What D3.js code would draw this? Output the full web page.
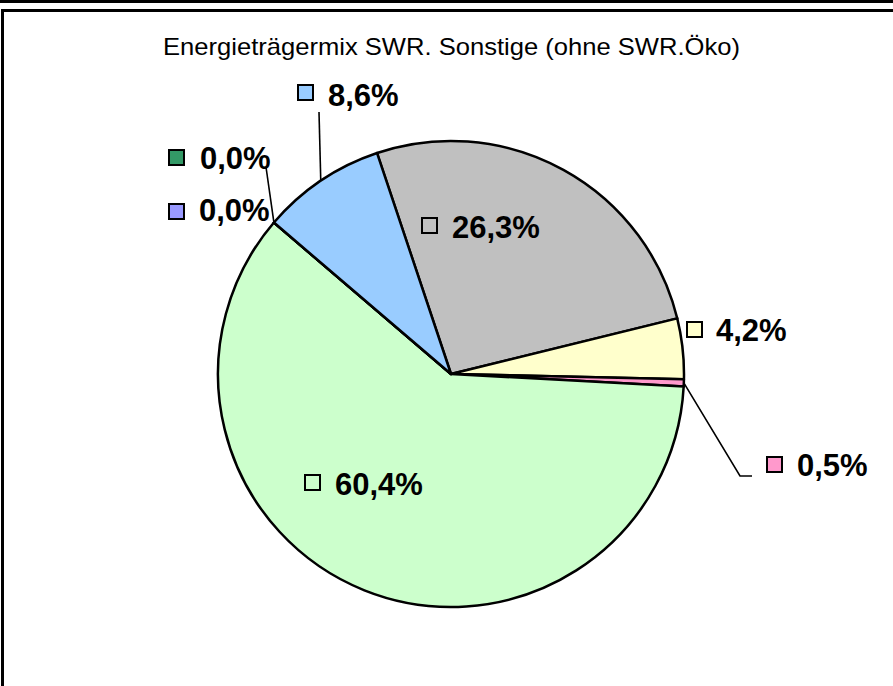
<!DOCTYPE html>
<html>
<head>
<meta charset="utf-8">
<script src="https://cdn.jsdelivr.net/npm/d3@7"></script>
<style>
  html, body { margin: 0; padding: 0; background: #fff; }
  svg { display: block; }
</style>
</head>
<body>
<svg id="chart" width="893" height="686"></svg>
<script>
// ---- data ----
const categories = ["Kohle", "Sonstige fossile", "Erneuerbare sonstige", "Kernenergie", "Erdgas", "Wasser", "EEG"];
const values = [26.3, 4.2, 0.5, 60.4, 0.0, 0.0, 8.6];
const labels = ["26,3%", "4,2%", "0,5%", "60,4%", "0,0%", "0,0%", "8,6%"];
const colors = ["#C0C0C0", "#FFFFCC", "#FF99CC", "#CCFFCC", "#9999FF", "#339966", "#99CCFF"];
const title = "Energieträgermix SWR. Sonstige (ohne SWR.Öko)";

// ---- layout ----
const W = 893, H = 686;
const cx = 451, cy = 374, R = 233;
const startDeg = -18.5;
// label layout: square left x, square top y, text x, baseline y, leader (optional)
const labelLayout = [
  { sx: 422, sy: 218, tx: 452, ty: 238 },
  { sx: 687, sy: 322, tx: 716, ty: 341 },
  { sx: 767, sy: 457, tx: 797, ty: 476, leader: [[740, 476], [752, 476]] },
  { sx: 305, sy: 475, tx: 335, ty: 495 },
  { sx: 169, sy: 204, tx: 199, ty: 221 },
  { sx: 169, sy: 150, tx: 200, ty: 169, leader: [[266, 167]] },
  { sx: 298, sy: 85, tx: 328, ty: 106, leader: [[319, 112]] }
];

const svg = d3.select("#chart");

// outer frame lines
svg.append("line").attr("x1", 0).attr("x2", W).attr("y1", 1.5).attr("y2", 1.5)
  .attr("stroke", "#000").attr("stroke-width", 3);
svg.append("rect").attr("x", 2.5).attr("y", 10.5).attr("width", W + 10).attr("height", H + 10)
  .attr("fill", "none").attr("stroke", "#000").attr("stroke-width", 3);

// title
svg.append("text")
  .attr("x", 163).attr("y", 55)
  .attr("font-family", "Liberation Sans, Arial, sans-serif")
  .attr("font-size", 24)
  .attr("textLength", 577)
  .attr("lengthAdjust", "spacingAndGlyphs")
  .attr("fill", "#000")
  .text(title);

const toRad = d => d * Math.PI / 180;
const pie = d3.pie().sort(null).value(d => d)
  .startAngle(toRad(startDeg)).endAngle(toRad(startDeg) + 2 * Math.PI);
const arcs = pie(values);
const arc = d3.arc().innerRadius(0).outerRadius(R);

const g = svg.append("g").attr("transform", `translate(${cx},${cy})`);
g.selectAll("path.slice").data(arcs).enter().append("path")
  .attr("class", "slice")
  .attr("d", arc)
  .attr("fill", (d, i) => colors[i])
  .attr("stroke", "#000")
  .attr("stroke-width", 2.5)
  .attr("stroke-linejoin", "round");

// leader lines
arcs.forEach((d, i) => {
  const L = labelLayout[i];
  if (!L.leader) return;
  const mid = (d.startAngle + d.endAngle) / 2;
  const px = cx + R * Math.sin(mid), py = cy - R * Math.cos(mid);
  const pts = [[px, py]].concat(L.leader);
  svg.append("path")
    .attr("d", d3.line()(pts))
    .attr("fill", "none").attr("stroke", "#000").attr("stroke-width", 1.6);
});

// labels
arcs.forEach((d, i) => {
  const L = labelLayout[i];
  svg.append("rect")
    .attr("x", L.sx).attr("y", L.sy).attr("width", 15).attr("height", 15)
    .attr("fill", colors[i]).attr("stroke", "#000").attr("stroke-width", 2);
  svg.append("text")
    .attr("x", L.tx).attr("y", L.ty)
    .attr("font-family", "Liberation Sans, Arial, sans-serif")
    .attr("font-weight", "bold")
    .attr("font-size", 31)
    .attr("fill", "#000")
    .text(labels[i]);
});
</script>
</body>
</html>
